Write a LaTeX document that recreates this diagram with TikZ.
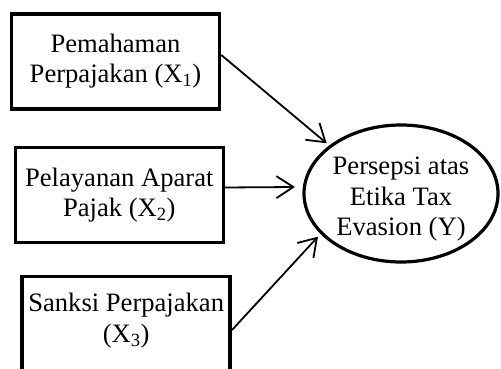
\documentclass[tikz,border=0pt]{standalone}
\usepackage{fontspec}
\setmainfont{Liberation Serif}
\usetikzlibrary{arrows.meta,shapes.geometric}
\begin{document}
\begin{tikzpicture}[x=1pt,y=-1pt,
  every node/.style={font=\fontsize{26.6}{30.6}\selectfont, align=center, inner sep=0pt},
  varbox/.style={draw, line width=3.6pt, rectangle, minimum width=208pt, minimum height=95pt},
  depbox/.style={draw, line width=3.2pt, ellipse, minimum width=194pt, minimum height=137pt},
  arr/.style={line width=1.8pt, -{Straight Barb[length=17pt,width=22pt,line width=1.8pt]}}
]
\useasboundingbox (0,0) rectangle (501,369);
\node[varbox] (b1) at (115.5,61.3) {Pemahaman\\Perpajakan (X\textsubscript{1})};
\node[varbox] (b2) at (119.3,195) {Pelayanan Aparat\\Pajak (X\textsubscript{2})};
\node[varbox] (b3) at (126.2,324) {Sanksi Perpajakan\\(X\textsubscript{3})\rule[-12pt]{0pt}{0pt}};
\node[depbox] (y) at (401,193.5) {\rule{0pt}{29pt}Persepsi atas\\Etika Tax\\Evasion (Y)};
\draw[arr] ([shift={(0,-6.3)}]b1.east) -- ([shift={(-74.3,-50.2)}]y.center);
\draw[arr] ([shift={(0,-7.5)}]b2.east) -- ([shift={(-106,-6.5)}]y.center);
\draw[arr] ([shift={(0,6)}]b3.east) -- ([shift={(-83,43.2)}]y.center);
\end{tikzpicture}
\end{document}
